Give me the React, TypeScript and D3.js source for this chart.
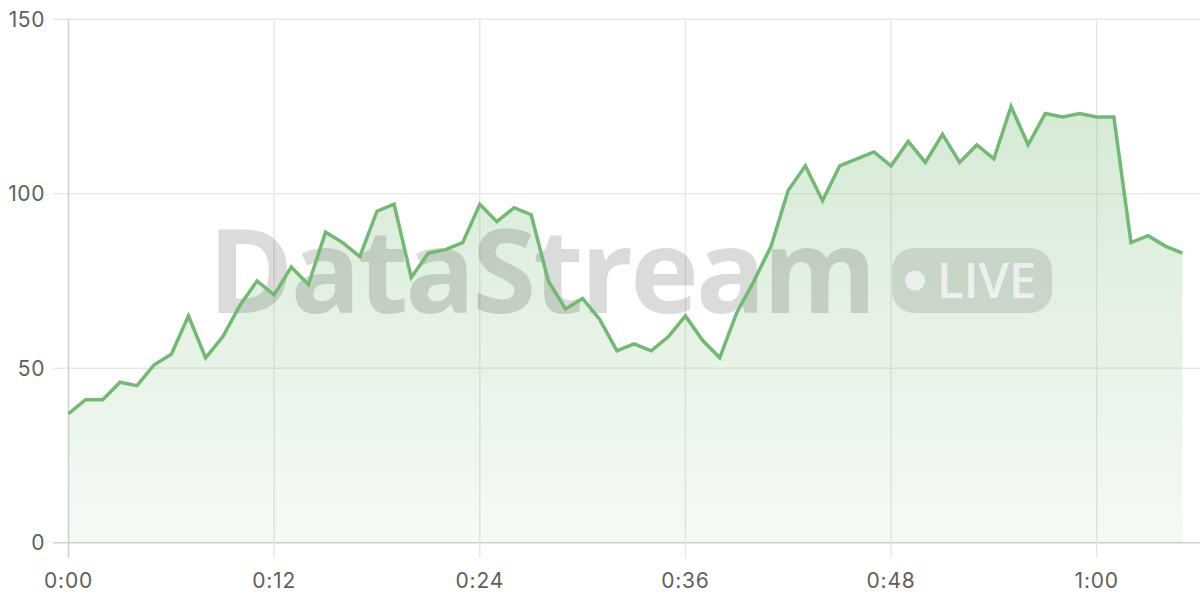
import React from "react";
import * as d3 from "d3";

const seconds: number[] = Array.from({ length: 66 }, (_, i) => i);
const values: number[] = [
  37, 41, 41, 46, 45, 51, 54, 65, 53, 59,
  68, 75, 71, 79, 74, 89, 86, 82, 95, 97,
  76, 83, 84, 86, 97, 92, 96, 94, 75, 67,
  70, 64, 55, 57, 55, 59, 65, 58, 53, 66,
  75, 85, 101, 108, 98, 108, 110, 112, 108, 115,
  109, 117, 109, 114, 110, 125, 114, 123, 122, 123,
  122, 122, 86, 88, 85, 83,
];
const xTicks: number[] = [0, 12, 24, 36, 48, 60];
const yTicks: number[] = [0, 50, 100, 150];
const watermarkText = "DataStream";
const badgeText = "LIVE";

const W = 1200;
const H = 600;
const LINE = "#74b875";
const GRID = "#e8e8e8";
const AXIS = "#cfcfcf";
const LABEL = "#5f5f5f";
const FONT = "Inter, 'Noto Sans', sans-serif";

function fmt(s: number): string {
  const m = Math.floor(s / 60);
  const r = s % 60;
  return `${m}:${r.toString().padStart(2, "0")}`;
}

export default function App() {
  const x = d3.scaleLinear().domain([0, 65]).range([68.5, 1182.4]);
  const y = d3.scaleLinear().domain([0, 150]).range([542.7, 19.3]);
  const data = seconds.map((s, i) => ({ s, v: values[i] }));
  const line = d3
    .line<{ s: number; v: number }>()
    .x((d) => x(d.s))
    .y((d) => y(d.v));
  const area = d3
    .area<{ s: number; v: number }>()
    .x((d) => x(d.s))
    .y0(y(0))
    .y1((d) => y(d.v));

  return (
    <div style={{ position: "absolute", left: 0, top: 0, width: W, height: H, background: "#fff" }}>
      <svg width={W} height={H} viewBox={`0 0 ${W} ${H}`} style={{ display: "block" }}>
        <defs>
          <linearGradient id="fillGrad" gradientUnits="userSpaceOnUse" x1="0" x2="0" y1={y(125)} y2={y(0)}>
            <stop offset="0" stopColor={LINE} stopOpacity={0.3} />
            <stop offset="1" stopColor={LINE} stopOpacity={0.07} />
          </linearGradient>
        </defs>
        {yTicks.map((t) => (
          <line key={"h" + t} x1={53} x2={W} y1={y(t)} y2={y(t)} stroke={t === 0 ? AXIS : GRID} strokeWidth={1.5} />
        ))}
        {xTicks.map((t) => (
          <line key={"v" + t} x1={x(t)} x2={x(t)} y1={y(150)} y2={558} stroke={t === 0 ? AXIS : GRID} strokeWidth={1.5} />
        ))}
        <path d={area(data) || ""} fill="url(#fillGrad)" />
        <g>
          <text
            x={208}
            y={313}
            fontFamily="'Open Sans', 'Noto Sans', sans-serif"
            fontWeight={700}
            fontSize={116}
            fill="rgba(0,0,0,0.14)"
            letterSpacing={-3}
          >
            {watermarkText}
          </text>
          <rect x={892} y={248} width={160} height={65} rx={22} fill="rgba(0,0,0,0.11)" />
          <circle cx={915} cy={280.5} r={10} fill="rgba(255,255,255,0.65)" />
          <text
            x={937}
            y={298}
            fontFamily="'Open Sans', 'Noto Sans', sans-serif"
            fontWeight={600}
            fontSize={49}
            fill="rgba(255,255,255,0.65)"
          >
            {badgeText}
          </text>
        </g>
        <path d={line(data) || ""} fill="none" stroke={LINE} strokeWidth={3.5} strokeLinejoin="miter" />
        {yTicks.map((t) => (
          <text key={"yl" + t} x={45} y={y(t)} dy="0.36em" textAnchor="end" fontFamily={FONT} fontSize={21} letterSpacing={0.6} fill={LABEL}>
            {t}
          </text>
        ))}
        {xTicks.map((t) => (
          <text key={"xl" + t} x={x(t)} y={588} textAnchor="middle" fontFamily={FONT} fontSize={21} letterSpacing={0.8} fill={LABEL}>
            {fmt(t)}
          </text>
        ))}
      </svg>
    </div>
  );
}
